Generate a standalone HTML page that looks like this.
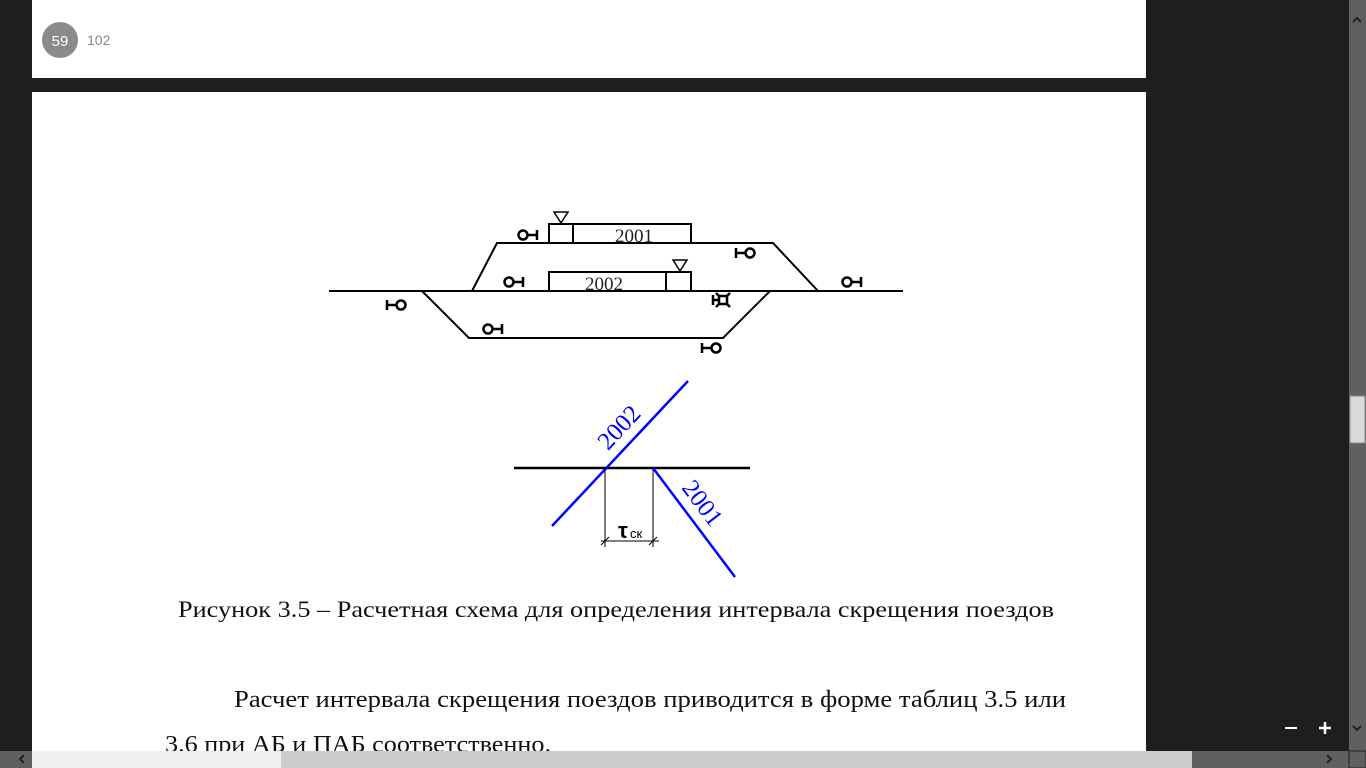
<!DOCTYPE html>
<html><head><meta charset="utf-8"><style>
html,body{margin:0;padding:0;width:1366px;height:768px;overflow:hidden;background:#1e1e1e;}
svg{display:block}
</style></head><body>
<svg width="1366" height="768" xmlns="http://www.w3.org/2000/svg" font-family="'Liberation Serif', serif">
<rect x="0" y="0" width="1366" height="768" fill="#1e1e1e"/>
<rect x="32" y="0" width="1114" height="78" fill="#fff"/>
<circle cx="60" cy="40" r="18" fill="#8a8a8a"/>
<text x="60" y="46" font-family="'Liberation Sans',sans-serif" font-size="15" fill="#fff" text-anchor="middle">59</text>
<text x="87" y="45" font-family="'Liberation Sans',sans-serif" font-size="14" fill="#888">102</text>
<rect x="32" y="92" width="1114" height="676" fill="#fff"/>

<g stroke="#000" stroke-width="2" fill="none">
<line x1="329" y1="291" x2="903" y2="291"/>
<polyline points="472,291 497,243 773,243 818,291"/>
<polyline points="422,291 469,338 723,338 770,291"/>
<rect x="549" y="224" width="142" height="19" fill="#fff"/>
<line x1="573" y1="224" x2="573" y2="243"/>
<rect x="549" y="272" width="142" height="19" fill="#fff"/>
<line x1="666" y1="272" x2="666" y2="291"/>
</g>
<g stroke="#000" stroke-width="1.5" fill="none">
<polygon points="554,212 568,212 561,223"/>
<polygon points="673,260 687,260 680,271"/>
</g>
<text x="634" y="242" font-size="19" text-anchor="middle" fill="#222">2001</text>
<text x="604" y="290" font-size="19" text-anchor="middle" fill="#222">2002</text>

<g stroke="#000" stroke-width="2.5" fill="none">
<g transform="translate(523,235)"><circle r="4.5"/><line x1="4" y1="0" x2="14" y2="0"/><line x1="14" y1="-5" x2="14" y2="5"/></g>
<g transform="translate(509,282)"><circle r="4.5"/><line x1="4" y1="0" x2="14" y2="0"/><line x1="14" y1="-5" x2="14" y2="5"/></g>
<g transform="translate(847,282)"><circle r="4.5"/><line x1="4" y1="0" x2="14" y2="0"/><line x1="14" y1="-5" x2="14" y2="5"/></g>
<g transform="translate(488,329)"><circle r="4.5"/><line x1="4" y1="0" x2="14" y2="0"/><line x1="14" y1="-5" x2="14" y2="5"/></g>
<g transform="translate(750,253)"><circle r="4.5"/><line x1="-4" y1="0" x2="-14" y2="0"/><line x1="-14" y1="-5" x2="-14" y2="5"/></g>
<g transform="translate(401,305)"><circle r="4.5"/><line x1="-4" y1="0" x2="-14" y2="0"/><line x1="-14" y1="-5" x2="-14" y2="5"/></g>
<g transform="translate(716,348)"><circle r="4.5"/><line x1="-4" y1="0" x2="-14" y2="0"/><line x1="-14" y1="-5" x2="-14" y2="5"/></g>
<g transform="translate(723,300)"><rect x="-4" y="-4" width="8" height="8"/><line x1="-4" y1="0" x2="-10" y2="0"/><line x1="-10" y1="-5" x2="-10" y2="5"/><line x1="-4" y1="-4" x2="-7" y2="-7"/><line x1="4" y1="-4" x2="7" y2="-7"/><line x1="-4" y1="4" x2="-7" y2="7"/><line x1="4" y1="4" x2="7" y2="7"/></g>
</g>

<line x1="514" y1="468" x2="750" y2="468" stroke="#000" stroke-width="2.5"/>
<line x1="552" y1="526" x2="688" y2="381" stroke="#0000ff" stroke-width="2.5"/>
<line x1="653" y1="468" x2="735" y2="577" stroke="#0000ff" stroke-width="2.5"/>
<g stroke="#000" stroke-width="1">
<line x1="605" y1="468" x2="605" y2="547"/>
<line x1="653" y1="468" x2="653" y2="547"/>
<line x1="601" y1="541" x2="659" y2="541"/>
<line x1="601" y1="545" x2="609" y2="537"/>
<line x1="649" y1="545" x2="657" y2="537"/>
</g>
<text x="618" y="538" font-family="'Liberation Sans',sans-serif" font-size="22" font-weight="bold" fill="#000">τ</text>
<text x="630" y="538" font-family="'Liberation Sans',sans-serif" font-size="13" fill="#000">ск</text>
<text transform="translate(625,433) rotate(-47)" font-size="25" fill="#0000ff" text-anchor="middle">2002</text>
<text transform="translate(696,508) rotate(53)" font-size="25" fill="#0000ff" text-anchor="middle">2001</text>

<text x="178" y="617" font-size="23" fill="#111" textLength="876" lengthAdjust="spacingAndGlyphs">Рисунок 3.5 – Расчетная схема для определения интервала скрещения поездов</text>
<text x="234" y="707" font-size="24" fill="#111" textLength="832" lengthAdjust="spacingAndGlyphs">Расчет интервала скрещения поездов приводится в форме таблиц 3.5 или</text>
<text x="165" y="752" font-size="24" fill="#111" textLength="386" lengthAdjust="spacingAndGlyphs">3.6 при АБ и ПАБ соответственно.</text>

<rect x="1349" y="0" width="17" height="768" fill="#606060"/>
<rect x="1350" y="396" width="15" height="47" fill="#dadada" stroke="#888" stroke-width="1"/>
<polyline points="1353,22 1357,18 1361,22" stroke="#222" stroke-width="2" fill="none"/>
<polyline points="1353,726 1357,730 1361,726" stroke="#222" stroke-width="2" fill="none"/>
<rect x="0" y="751" width="1349" height="17" fill="#606060"/>
<rect x="32" y="751" width="249" height="17" fill="#efefef"/>
<rect x="281" y="751" width="911" height="17" fill="#cccccc"/>
<polyline points="24,755 20,759 24,763" stroke="#222" stroke-width="2" fill="none"/>
<polyline points="1327,755 1331,759 1327,763" stroke="#222" stroke-width="2" fill="none"/>
<rect x="1349" y="751" width="17" height="17" fill="#606060" stroke="#222"/>
<line x1="1285" y1="728" x2="1297" y2="728" stroke="#fff" stroke-width="2"/>
<line x1="1319" y1="728" x2="1331" y2="728" stroke="#fff" stroke-width="2.5"/>
<line x1="1325" y1="722" x2="1325" y2="734" stroke="#fff" stroke-width="2.5"/>
</svg>
</body></html>
